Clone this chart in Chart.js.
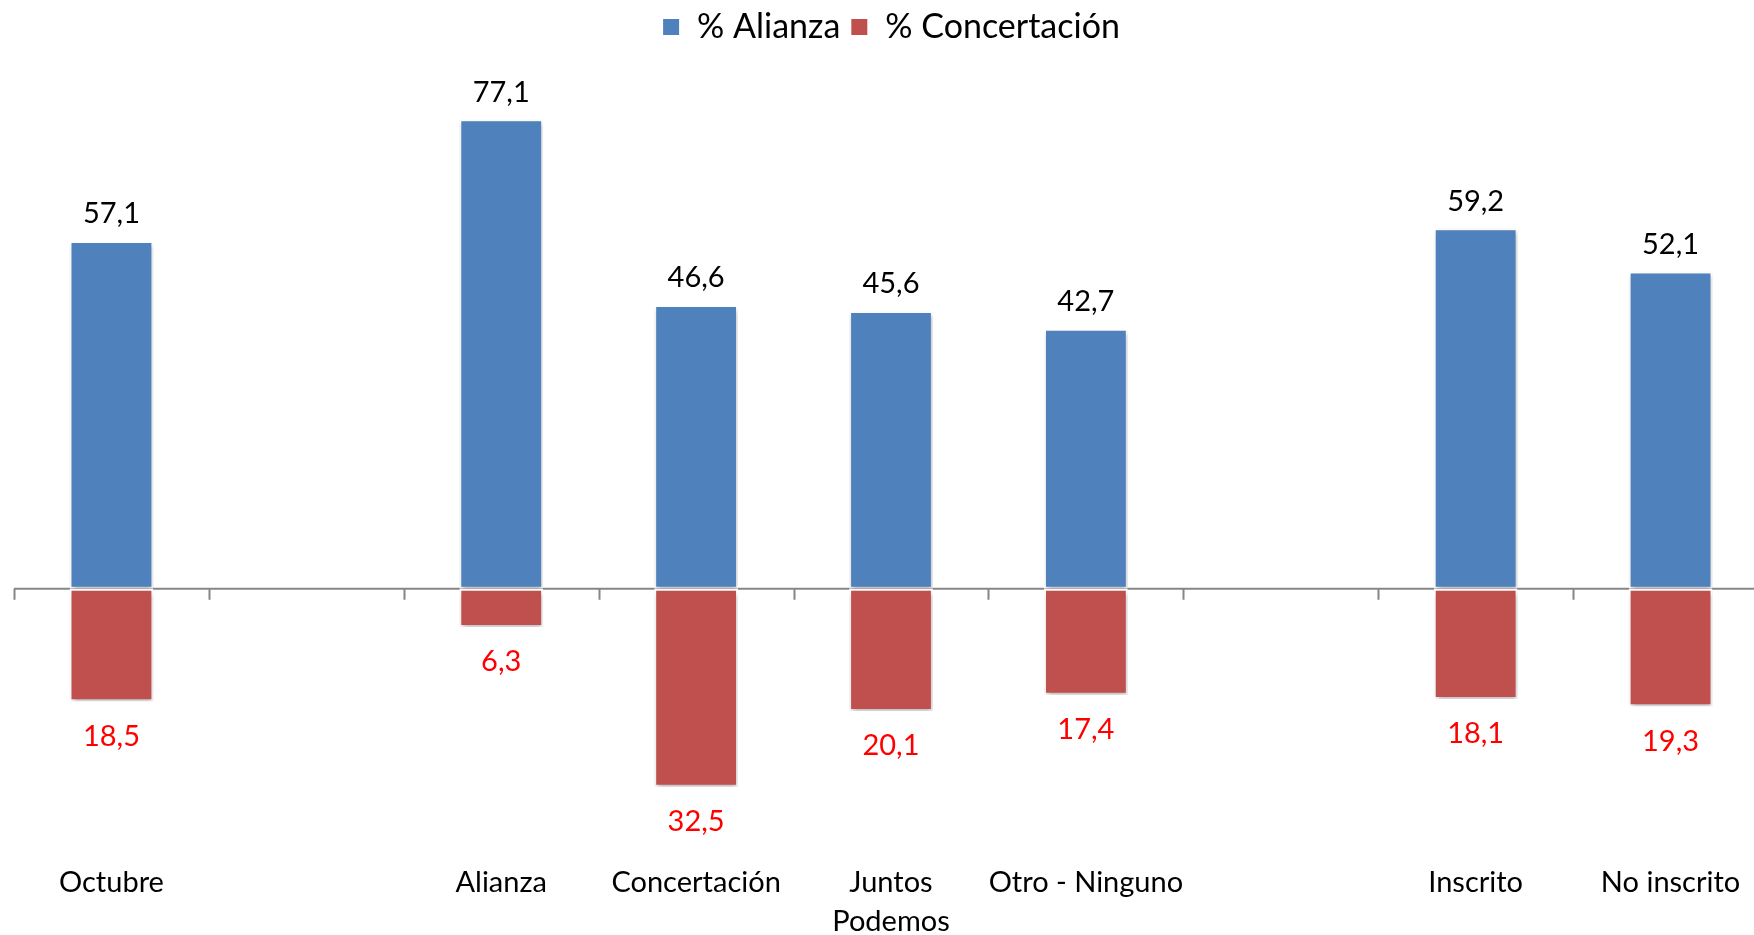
<!DOCTYPE html>
<html><head><meta charset="utf-8">
<script src="https://cdn.jsdelivr.net/npm/chart.js@4/dist/chart.umd.min.js"></script>
<style>html,body{margin:0;padding:0;overflow:hidden;background:#fff}
#wrap{position:absolute;left:0;top:0;width:1768px;height:947px}</style>
</head><body><div id="wrap"><canvas id="c"></canvas></div>
<script>
const categories = ['Octubre', '', 'Alianza', 'Concertación', ['Juntos', 'Podemos'], 'Otro - Ninguno', '', 'Inscrito', 'No inscrito'];
const alianza = [57.1, null, 77.1, 46.6, 45.6, 42.7, null, 59.2, 52.1];
const concertacion = [-18.5, null, -6.3, -32.5, -20.1, -17.4, null, -18.1, -19.3];
const seriesNames = ['% Alianza', '% Concertación'];
const seriesColors = ['#4F81BD', '#C0504D'];
const labelColors = ['#000000', '#FF0000'];

const FONT = 'Lato, "Open Sans", sans-serif';

const zeroLinePlugin = {
  id: 'zeroLine',
  beforeDatasetsDraw(chart) {
    const {ctx, scales: {x, y}} = chart;
    const y0 = y.getPixelForValue(0);
    const n = categories.length;
    const w = (x.right - x.left) / n;
    ctx.save();
    ctx.strokeStyle = '#868686';
    ctx.lineWidth = 2;
    ctx.beginPath();
    ctx.moveTo(x.left, y0);
    ctx.lineTo(x.right, y0);
    for (let i = 0; i <= n; i++) {
      const px = Math.round(x.getPixelForValue(i) - w / 2) + 0.5;
      ctx.moveTo(px, y0);
      ctx.lineTo(px, y0 + 11);
    }
    ctx.stroke();
    ctx.restore();
  }
};

const shadowPlugin = {
  id: 'barShadow',
  beforeDatasetDraw(chart) {
    const ctx = chart.ctx;
    ctx.save();
    ctx.shadowColor = 'rgba(0,0,0,0.28)';
    ctx.shadowBlur = 5;
    ctx.shadowOffsetX = 1;
    ctx.shadowOffsetY = 3;
  },
  afterDatasetDraw(chart) {
    chart.ctx.restore();
  }
};

const valueLabelPlugin = {
  id: 'valueLabels',
  afterDatasetsDraw(chart) {
    const ctx = chart.ctx;
    ctx.save();
    ctx.font = '29px ' + FONT;
    ctx.textAlign = 'center';
    ctx.textBaseline = 'middle';
    chart.data.datasets.forEach((ds, di) => {
      const meta = chart.getDatasetMeta(di);
      meta.data.forEach((bar, i) => {
        const v = ds.data[i];
        if (v === null || v === undefined) return;
        const txt = Math.abs(v).toFixed(1).replace('.', ',');
        ctx.fillStyle = labelColors[di];
        const yy = v >= 0 ? bar.y - 27 : bar.y + 35;
        ctx.fillText(txt, bar.x, yy);
      });
    });
    ctx.restore();
  }
};

new Chart(document.getElementById('c'), {
  type: 'bar',
  data: {
    labels: categories,
    datasets: [
      {label: seriesNames[0], data: alianza, backgroundColor: seriesColors[0], borderColor: '#FFFFFF', borderWidth: 2, borderSkipped: false},
      {label: seriesNames[1], data: concertacion, backgroundColor: seriesColors[1], borderColor: '#FFFFFF', borderWidth: 2, borderSkipped: false}
    ]
  },
  options: {
    responsive: true,
    maintainAspectRatio: false,
    animation: false,
    layout: {padding: {left: 14, right: 0, top: 0, bottom: 0}},
    datasets: {bar: {barPercentage: 0.43, categoryPercentage: 1.0}},
    plugins: {
      legend: {
        position: 'top',
        labels: {
          font: {family: FONT, size: 34},
          color: '#000',
          boxWidth: 18, boxHeight: 18,
          padding: 10
        }
      },
      tooltip: {enabled: false}
    },
    scales: {
      x: {
        stacked: true,
        grid: {display: false, drawTicks: false},
        border: {display: false},
        ticks: {color: '#000', font: {family: FONT, size: 29, lineHeight: 1.34}, padding: 6, maxRotation: 0, autoSkip: false}
      },
      y: {
        stacked: true,
        display: false,
        min: -44.1,
        max: 87.8
      }
    }
  },
  plugins: [zeroLinePlugin, shadowPlugin, valueLabelPlugin]
});
</script></body></html>
